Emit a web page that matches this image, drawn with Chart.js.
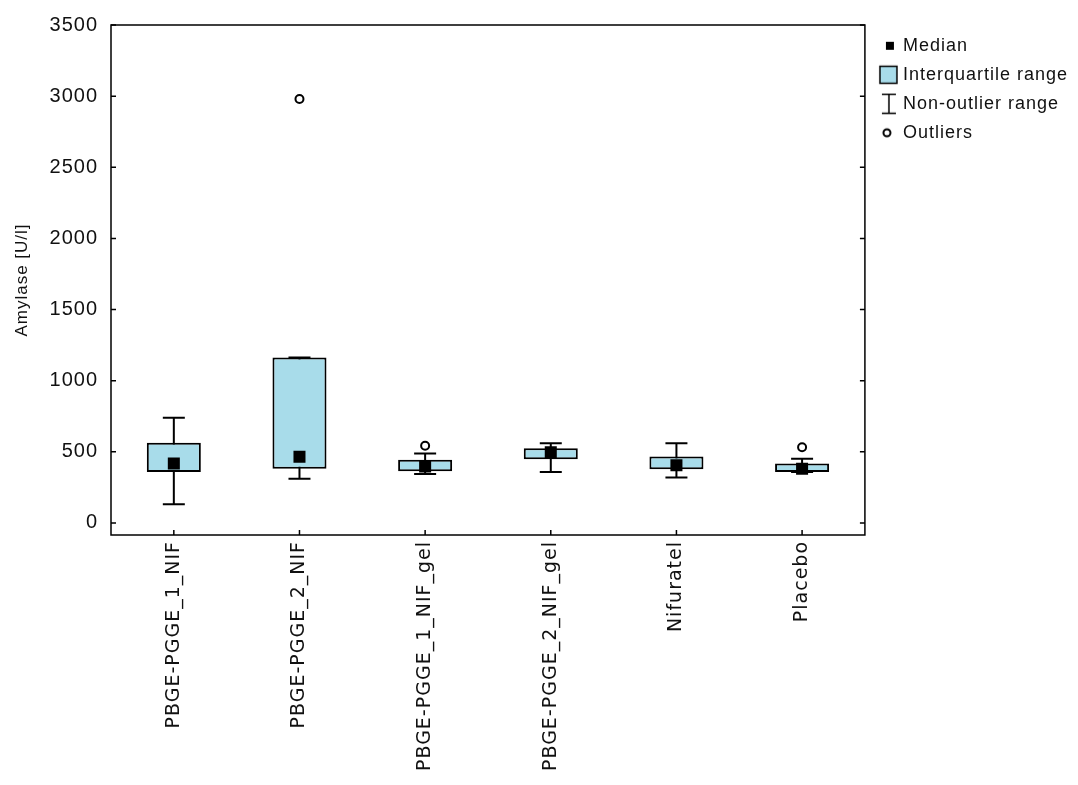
<!DOCTYPE html>
<html>
<head>
<meta charset="utf-8">
<script src="https://cdn.jsdelivr.net/npm/chart.js@4/dist/chart.umd.min.js"></script>
<style>
  body { margin: 0; background: #fff; }
</style>
</head>
<body>
<canvas id="chartAmylase" width="1078" height="785"></canvas>
<script>
const categories = ['PBGE-PGGE_1_NIF', 'PBGE-PGGE_2_NIF', 'PBGE-PGGE_1_NIF_gel', 'PBGE-PGGE_2_NIF_gel', 'Nifuratel', 'Placebo']
const medians = [418, 465, 397, 497, 406, 381]
const q1 = [357, 381, 364, 448, 378, 357]
const q3 = [563, 1162, 444, 525, 467, 418]
const whiskerMin = [131, 311, 343, 357, 320, 357]
const whiskerMax = [740, 1162, 488, 560, 560, 451]
const outliers = [null, 2980, 542, null, null, 532]
const yTicks = [0, 500, 1000, 1500, 2000, 2500, 3000, 3500]
const legendNames = ['Median', 'Interquartile range', 'Non-outlier range', 'Outliers']

const boxColor = '#a8dcea'

// little pictures for the legend (drawn centred on the legend box)
const makeIcon = (draw) => {
    const c = document.createElement('canvas')
    c.width = 40
    c.height = 22
    const g = c.getContext('2d')
    g.strokeStyle = '#000'
    g.fillStyle = '#000'
    draw(g)
    return c
}
const iconMedian = makeIcon(g => g.fillRect(21, 7, 8, 8))
const iconBox = makeIcon(g => {
    g.fillStyle = boxColor
    g.fillRect(15, 2.5, 17, 17)
    g.lineWidth = 1.5
    g.strokeRect(15, 2.5, 17, 17)
})
const iconWhisker = makeIcon(g => {
    g.lineWidth = 1.5
    g.beginPath()
    g.moveTo(17, 1.5); g.lineTo(31, 1.5)
    g.moveTo(24, 1.5); g.lineTo(24, 20.5)
    g.moveTo(17, 20.5); g.lineTo(31, 20.5)
    g.stroke()
})
const iconOutlier = makeIcon(g => {
    g.lineWidth = 2
    g.beginPath()
    g.arc(22, 11, 3.5, 0, Math.PI * 2)
    g.stroke()
})
const icons = [iconMedian, iconBox, iconWhisker, iconOutlier]

// the reference text is a bit spread out
const spacing = {
    id: 'spacing',
    beforeUpdate(chart) { chart.ctx.letterSpacing = '1px' },
    beforeDraw(chart) { chart.ctx.letterSpacing = '1px' }
}

const whiskers = {
    id: 'whiskers',
    beforeDatasetsDraw(chart) {
        const { ctx, scales: { x, y } } = chart
        ctx.save()
        ctx.strokeStyle = '#000'
        ctx.lineWidth = 2
        categories.forEach((c, i) => {
            const cx = x.getPixelForValue(i)
            const top = y.getPixelForValue(whiskerMax[i])
            const bottom = y.getPixelForValue(whiskerMin[i])
            ctx.beginPath()
            ctx.moveTo(cx, top); ctx.lineTo(cx, bottom)
            ctx.moveTo(cx - 11, top); ctx.lineTo(cx + 11, top)
            ctx.moveTo(cx - 11, bottom); ctx.lineTo(cx + 11, bottom)
            ctx.stroke()
        })
        ctx.restore()
    }
}

const frame = {
    id: 'frame',
    afterDraw(chart) {
        const { ctx, chartArea: a, scales: { x, y } } = chart
        ctx.save()
        ctx.strokeStyle = '#000'
        ctx.lineWidth = 1.5
        ctx.strokeRect(a.left, a.top, a.right - a.left, a.bottom - a.top)
        ctx.beginPath()
        y.ticks.forEach(t => {
            const py = y.getPixelForValue(t.value)
            ctx.moveTo(a.left, py); ctx.lineTo(a.left + 5, py)
            ctx.moveTo(a.right, py); ctx.lineTo(a.right - 5, py)
        })
        x.ticks.forEach((t, i) => {
            const px = x.getPixelForValue(i)
            ctx.moveTo(px, a.bottom); ctx.lineTo(px, a.bottom - 5)
        })
        ctx.stroke()
        ctx.restore()
    }
}

const canvasAmylase = document.getElementById('chartAmylase')
const contextAmylase = canvasAmylase.getContext('2d')
const chartAmylase = new Chart(contextAmylase, {
    type: 'bar',
    data: {
        labels: categories,
        datasets: [
            {
                type: 'line',
                label: 'Median',
                data: medians,
                showLine: false,
                pointStyle: 'rect',
                pointRadius: 8.5,
                pointBackgroundColor: '#000',
                pointBorderWidth: 0
            },
            {
                type: 'line',
                label: 'Outliers',
                data: outliers,
                showLine: false,
                pointStyle: 'circle',
                pointRadius: 4,
                pointBackgroundColor: '#fff',
                pointBorderColor: '#000',
                pointBorderWidth: 2
            },
            {
                label: 'Interquartile range',
                data: q1.map((v, i) => [v, q3[i]]),
                backgroundColor: boxColor,
                borderColor: '#000',
                borderWidth: 2,
                borderSkipped: false,
                barPercentage: 0.43,
                categoryPercentage: 1
            }
        ]
    },
    options: {
        responsive: false,
        animation: false,
        devicePixelRatio: 1,
        layout: { padding: { top: 21, left: 8, right: 0, bottom: 0 } },
        plugins: {
            tooltip: { enabled: false },
            legend: {
                position: 'right',
                align: 'start',
                onClick: null,
                // empty title only pushes the items down a little
                title: { display: true, text: '', font: { size: 4 } },
                labels: {
                    usePointStyle: true,
                    pointStyleWidth: 18,
                    padding: 11,
                    color: '#111',
                    font: { family: 'Liberation Sans', size: 18 },
                    generateLabels: () => legendNames.map((n, i) => ({
                        text: n,
                        pointStyle: icons[i],
                        fontColor: '#111',
                        lineWidth: 0,
                        hidden: false
                    }))
                }
            }
        },
        scales: {
            x: {
                grid: { display: false, drawTicks: false },
                border: { display: false },
                afterFit: s => { s.height = 250 },
                ticks: {
                    color: '#111',
                    minRotation: 90,
                    maxRotation: 90,
                    padding: 6,
                    autoSkip: false,
                    font: { family: 'DejaVu Sans', size: 19 }
                }
            },
            y: {
                min: -85,
                max: 3500,
                grid: { display: false, drawTicks: false },
                border: { display: false },
                afterFit: s => { s.width = 103 },
                afterBuildTicks: s => { s.ticks = yTicks.map(v => ({ value: v })) },
                title: {
                    display: true,
                    text: 'Amylase [U/l]',
                    color: '#111',
                    padding: { top: 4, bottom: 8 },
                    font: { family: 'Liberation Sans', size: 17 }
                },
                ticks: {
                    color: '#111',
                    padding: 13,
                    callback: v => String(v),
                    font: { family: 'Liberation Sans', size: 20 }
                }
            }
        }
    },
    plugins: [spacing, whiskers, frame]
})
</script>
</body>
</html>
